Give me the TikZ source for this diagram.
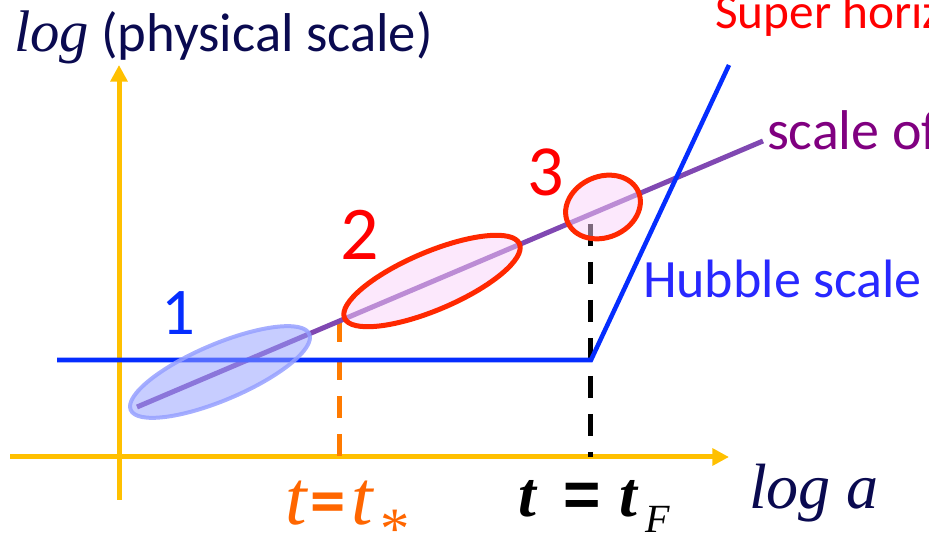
\documentclass[tikz,border=0pt]{standalone}
\usepackage{fontspec}
\setmainfont{Carlito}
\newfontfamily\tnr{Liberation Serif}
\newfontfamily\arl{Liberation Sans}
\usetikzlibrary{arrows.meta,shapes.geometric}
\definecolor{axisyel}{RGB}{255,192,0}
\definecolor{hubblue}{RGB}{5,45,255}
\definecolor{purpl}{RGB}{128,72,178}
\definecolor{navy}{RGB}{10,10,80}
\definecolor{orng}{RGB}{255,102,0}
\definecolor{dashorng}{RGB}{255,122,0}
\definecolor{redring}{RGB}{255,40,0}
\definecolor{pinkfill}{RGB}{249,209,249}
\definecolor{bluefill}{RGB}{150,160,255}
\definecolor{txtpurp}{RGB}{128,0,128}
\definecolor{txtblue}{RGB}{40,40,255}
\tikzset{
  axisline/.style={draw=axisyel,line width=3.75pt,-{Triangle[length=12.5pt,width=12.5pt]}},
  hubline/.style={draw=hubblue,line width=3.4pt,line join=miter},
  purpline/.style={draw=purpl,line width=3.75pt},
  dashline/.style={line width=3.75pt,dash pattern=on 16.5pt off 12pt},
  blob/.style={ellipse,inner sep=0pt,rotate=23},
  lbl/.style={inner sep=0pt,outer sep=0pt,anchor=base west},
  num/.style={inner sep=0pt,outer sep=0pt,anchor=base}
}
\begin{document}
\begin{tikzpicture}[x=0.75pt,y=-0.75pt]
\useasboundingbox (0,0) rectangle (929,534);
\clip (0,0) rectangle (929,534);
% coordinates
\coordinate (yb) at (119,500);
\coordinate (yt) at (119,65);
\coordinate (xl) at (10,457);
\coordinate (xr) at (729,457);
\coordinate (h0) at (57,360);
\coordinate (hk) at (591,360);
\coordinate (ht) at (729,65);
\coordinate (tsb) at (339,457);
\coordinate (tst) at (339,320);
\coordinate (tfb) at (590,457);
\coordinate (tft) at (590,224);
\coordinate (p0) at (137,407);
\coordinate (p1) at (763,141);
% axes
\draw[axisline] (yb) -- (yt);
\draw[axisline] (xl) -- (xr);
% dashed markers
\draw[dashline,draw=dashorng] (tst) -- (tsb);
\draw[dashline,draw=black] (tft) -- (tfb);
% scale line and Hubble scale
\draw[purpline] (p0) -- (p1);
\draw[hubline] (h0) -- (hk) -- (ht);
% ellipses
\node[blob,minimum width=194pt*0.75,minimum height=56pt*0.75,fill=bluefill,fill opacity=0.53,draw=bluefill,draw opacity=0.85,line width=3pt] (e1) at (220,372) {};
\node[blob,minimum width=190pt*0.75,minimum height=58pt*0.75,fill=pinkfill,fill opacity=0.5,draw=redring,draw opacity=1,line width=3.75pt] (e2) at (432,281) {};
\node[blob,minimum width=77pt*0.75,minimum height=61pt*0.75,fill=pinkfill,fill opacity=0.5,draw=redring,draw opacity=1,line width=3.75pt] (e3) at (603,207) {};
% numbers
\node[num,text=hubblue,font=\fontsize{50}{54}\selectfont] (n1) at (178,335) {1};
\node[num,text=red,font=\fontsize{57}{60}\selectfont] (n2) at (360,260) {2};
\node[num,text=red,font=\fontsize{54}{58}\selectfont] (n3) at (546,196) {3};
% labels
\node[lbl,text=navy,font=\fontsize{41}{44}\selectfont] (ylab) at (14,52) {{\tnr\itshape\fontsize{44}{46}\selectfont log} (physical scale)};
\node[lbl,text=red,font=\fontsize{37}{40}\selectfont] (super) at (715,29) {Super horizon};
\node[lbl,text=txtpurp,font=\fontsize{42}{46}\selectfont] (scaleof) at (767,150) {scale of};
\node[lbl,text=txtblue,font=\fontsize{40.5}{44}\selectfont] (hub) at (643,298) {Hubble scale};
\node[lbl,text=navy,font=\tnr\itshape\fontsize{48}{50}\selectfont] (xlab) at (749,509) {log a};
\node[lbl,text=orng] (tstar) at (285,525) {{\tnr\itshape\fontsize{58}{60}\selectfont t}\hspace{3pt}{\bfseries\fontsize{53}{54}\selectfont =}\hspace{4pt}{\tnr\itshape\fontsize{58}{60}\selectfont t}\hspace{6pt}\raisebox{-18pt}{\tnr\fontsize{44}{46}\selectfont *}};
\node[lbl,text=black] (tF) at (518,517) {{\tnr\bfseries\itshape\fontsize{48}{52}\selectfont t}\hspace{21pt}{\arl\bfseries\fontsize{48}{52}\selectfont =}\hspace{14pt}{\tnr\bfseries\itshape\fontsize{48}{52}\selectfont t}\hspace{6pt}\raisebox{-12pt}{\tnr\itshape\fontsize{30}{32}\selectfont F}};
\end{tikzpicture}
\end{document}
